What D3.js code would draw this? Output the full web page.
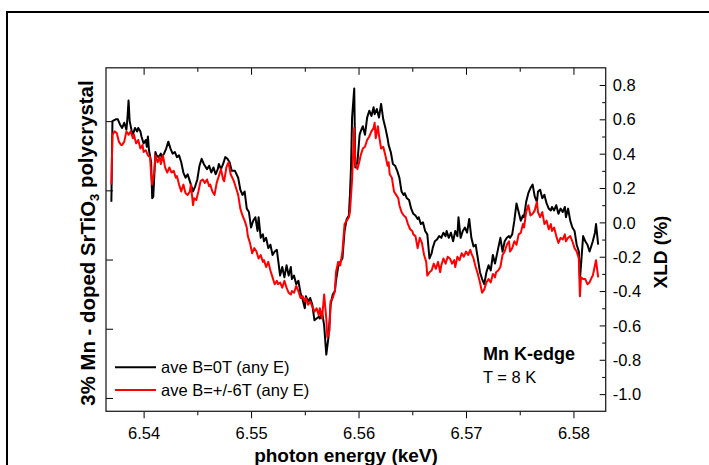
<!DOCTYPE html>
<html><head><meta charset="utf-8">
<script src="https://cdn.jsdelivr.net/npm/d3@7"></script>
<style>body{margin:0;background:#fff} svg text{font-family:Arial,"Liberation Sans",sans-serif;fill:#000}</style>
</head><body><svg id="c" width="709" height="465"></svg>
<script>
// ---- data (energy keV, XLD %) ----
const seriesNames = ["ave B=0T (any E)", "ave B=+/-6T (any E)"];
const blackData = [[6.5370,0.12],[6.5371,0.59],[6.5374,0.60],[6.5376,0.60],[6.5378,0.57],[6.5380,0.55],[6.5382,0.58],[6.5384,0.54],[6.5385,0.61],[6.5386,0.71],[6.5387,0.59],[6.5389,0.53],[6.5390,0.51],[6.5392,0.55],[6.5394,0.53],[6.5395,0.55],[6.5397,0.53],[6.5398,0.50],[6.5400,0.46],[6.5402,0.48],[6.5403,0.44],[6.5404,0.50],[6.5405,0.42],[6.5407,0.35],[6.5408,0.14],[6.5409,0.15],[6.5411,0.41],[6.5412,0.39],[6.5414,0.38],[6.5416,0.40],[6.5417,0.38],[6.5419,0.40],[6.5421,0.43],[6.5423,0.47],[6.5425,0.43],[6.5427,0.40],[6.5429,0.41],[6.5431,0.38],[6.5433,0.39],[6.5435,0.35],[6.5437,0.29],[6.5439,0.26],[6.5441,0.28],[6.5443,0.24],[6.5444,0.22],[6.5446,0.18],[6.5448,0.21],[6.5450,0.25],[6.5452,0.33],[6.5454,0.37],[6.5456,0.34],[6.5457,0.33],[6.5459,0.31],[6.5461,0.33],[6.5463,0.29],[6.5465,0.32],[6.5467,0.28],[6.5469,0.31],[6.5470,0.34],[6.5472,0.31],[6.5474,0.34],[6.5476,0.38],[6.5478,0.37],[6.5480,0.35],[6.5482,0.30],[6.5485,0.30],[6.5488,0.26],[6.5490,0.19],[6.5492,0.16],[6.5494,0.18],[6.5496,0.08],[6.5498,0.06],[6.5500,-0.03],[6.5502,0.01],[6.5504,0.03],[6.5506,-0.05],[6.5507,0.03],[6.5509,-0.09],[6.5511,-0.07],[6.5512,-0.11],[6.5514,-0.09],[6.5516,-0.15],[6.5518,-0.13],[6.5520,-0.19],[6.5522,-0.17],[6.5524,-0.16],[6.5525,-0.21],[6.5527,-0.31],[6.5529,-0.26],[6.5531,-0.32],[6.5533,-0.25],[6.5535,-0.31],[6.5537,-0.26],[6.5538,-0.33],[6.5540,-0.31],[6.5542,-0.36],[6.5544,-0.34],[6.5546,-0.41],[6.5548,-0.45],[6.5550,-0.50],[6.5551,-0.43],[6.5553,-0.46],[6.5555,-0.44],[6.5557,-0.48],[6.5559,-0.57],[6.5561,-0.56],[6.5563,-0.55],[6.5564,-0.56],[6.5566,-0.52],[6.5568,-0.60],[6.5570,-0.77],[6.5572,-0.67],[6.5574,-0.48],[6.5576,-0.42],[6.5578,-0.40],[6.5579,-0.34],[6.5581,-0.26],[6.5583,-0.23],[6.5585,-0.21],[6.5587,-0.05],[6.5589,0.02],[6.5591,0.04],[6.5592,0.16],[6.5593,0.32],[6.5594,0.61],[6.5596,0.78],[6.5597,0.32],[6.5599,0.35],[6.5601,0.51],[6.5602,0.53],[6.5604,0.56],[6.5606,0.51],[6.5608,0.61],[6.5610,0.65],[6.5612,0.62],[6.5614,0.67],[6.5615,0.63],[6.5617,0.66],[6.5619,0.61],[6.5621,0.69],[6.5623,0.60],[6.5625,0.55],[6.5627,0.49],[6.5628,0.45],[6.5630,0.41],[6.5632,0.34],[6.5634,0.33],[6.5636,0.30],[6.5638,0.26],[6.5640,0.18],[6.5642,0.16],[6.5643,0.17],[6.5645,0.14],[6.5647,0.13],[6.5649,0.08],[6.5651,0.05],[6.5653,0.04],[6.5655,0.02],[6.5656,0.03],[6.5658,-0.01],[6.5660,0.00],[6.5662,-0.05],[6.5664,-0.07],[6.5666,-0.21],[6.5668,-0.18],[6.5669,-0.15],[6.5671,-0.11],[6.5673,-0.10],[6.5675,-0.08],[6.5677,-0.09],[6.5679,-0.06],[6.5681,-0.08],[6.5682,-0.05],[6.5684,-0.09],[6.5686,-0.06],[6.5688,-0.11],[6.5690,-0.05],[6.5692,-0.08],[6.5693,0.03],[6.5695,-0.09],[6.5697,-0.05],[6.5699,-0.03],[6.5701,-0.06],[6.5703,0.02],[6.5705,-0.09],[6.5707,-0.14],[6.5709,-0.13],[6.5711,-0.21],[6.5713,-0.29],[6.5715,-0.33],[6.5717,-0.36],[6.5719,-0.29],[6.5721,-0.25],[6.5723,-0.28],[6.5725,-0.19],[6.5727,-0.24],[6.5728,-0.21],[6.5730,-0.15],[6.5732,-0.09],[6.5734,-0.17],[6.5736,-0.11],[6.5738,-0.09],[6.5740,-0.08],[6.5741,-0.09],[6.5743,-0.07],[6.5745,0.01],[6.5747,0.11],[6.5749,0.06],[6.5751,0.01],[6.5753,0.04],[6.5754,0.03],[6.5756,0.12],[6.5758,0.17],[6.5760,0.20],[6.5762,0.22],[6.5764,0.15],[6.5766,0.12],[6.5767,0.18],[6.5769,0.19],[6.5771,0.14],[6.5773,0.16],[6.5775,0.11],[6.5777,0.08],[6.5779,0.07],[6.5780,0.09],[6.5782,0.07],[6.5784,0.10],[6.5786,0.05],[6.5788,0.08],[6.5790,0.06],[6.5792,0.09],[6.5793,0.03],[6.5795,0.08],[6.5797,0.01],[6.5799,-0.03],[6.5801,-0.05],[6.5803,-0.13],[6.5805,-0.17],[6.5806,-0.33],[6.5807,-0.25],[6.5809,-0.08],[6.5811,-0.11],[6.5813,-0.13],[6.5815,-0.17],[6.5817,-0.13],[6.5818,-0.11],[6.5820,-0.06],[6.5821,-0.01],[6.5823,-0.13]];
const redData = [[6.5370,0.22],[6.5371,0.51],[6.5373,0.53],[6.5375,0.52],[6.5377,0.47],[6.5379,0.45],[6.5380,0.45],[6.5382,0.47],[6.5384,0.53],[6.5386,0.51],[6.5388,0.53],[6.5390,0.49],[6.5391,0.51],[6.5393,0.46],[6.5395,0.48],[6.5397,0.43],[6.5399,0.45],[6.5400,0.41],[6.5402,0.42],[6.5404,0.39],[6.5406,0.38],[6.5407,0.28],[6.5408,0.22],[6.5410,0.30],[6.5411,0.39],[6.5413,0.35],[6.5415,0.38],[6.5416,0.34],[6.5418,0.39],[6.5420,0.32],[6.5422,0.29],[6.5424,0.32],[6.5426,0.29],[6.5428,0.30],[6.5430,0.26],[6.5431,0.27],[6.5433,0.22],[6.5435,0.18],[6.5437,0.22],[6.5439,0.17],[6.5441,0.16],[6.5443,0.18],[6.5444,0.22],[6.5446,0.10],[6.5447,0.14],[6.5449,0.13],[6.5451,0.18],[6.5453,0.24],[6.5455,0.25],[6.5457,0.23],[6.5459,0.25],[6.5461,0.21],[6.5462,0.22],[6.5464,0.18],[6.5466,0.16],[6.5468,0.23],[6.5470,0.27],[6.5472,0.31],[6.5474,0.25],[6.5475,0.24],[6.5477,0.32],[6.5479,0.35],[6.5481,0.28],[6.5484,0.24],[6.5486,0.20],[6.5488,0.16],[6.5490,0.08],[6.5492,0.04],[6.5494,0.01],[6.5496,-0.03],[6.5497,-0.08],[6.5499,-0.12],[6.5501,-0.18],[6.5503,-0.15],[6.5505,-0.17],[6.5507,-0.21],[6.5509,-0.19],[6.5511,-0.23],[6.5512,-0.22],[6.5514,-0.26],[6.5516,-0.23],[6.5518,-0.28],[6.5520,-0.32],[6.5522,-0.36],[6.5524,-0.34],[6.5525,-0.36],[6.5527,-0.35],[6.5529,-0.38],[6.5531,-0.34],[6.5533,-0.38],[6.5535,-0.41],[6.5537,-0.42],[6.5538,-0.40],[6.5540,-0.41],[6.5542,-0.37],[6.5544,-0.40],[6.5546,-0.44],[6.5548,-0.43],[6.5550,-0.46],[6.5551,-0.44],[6.5553,-0.48],[6.5555,-0.46],[6.5557,-0.49],[6.5559,-0.52],[6.5561,-0.50],[6.5563,-0.54],[6.5564,-0.50],[6.5566,-0.56],[6.5568,-0.42],[6.5570,-0.56],[6.5571,-0.67],[6.5573,-0.63],[6.5574,-0.46],[6.5576,-0.44],[6.5578,-0.40],[6.5579,-0.29],[6.5581,-0.23],[6.5583,-0.25],[6.5585,-0.17],[6.5587,-0.01],[6.5589,0.01],[6.5591,0.03],[6.5592,0.06],[6.5594,0.25],[6.5596,0.55],[6.5597,0.34],[6.5599,0.31],[6.5601,0.36],[6.5602,0.39],[6.5604,0.43],[6.5606,0.44],[6.5608,0.48],[6.5610,0.50],[6.5612,0.53],[6.5614,0.55],[6.5615,0.58],[6.5616,0.49],[6.5618,0.56],[6.5619,0.51],[6.5621,0.43],[6.5623,0.44],[6.5625,0.39],[6.5627,0.33],[6.5628,0.35],[6.5629,0.28],[6.5631,0.26],[6.5633,0.18],[6.5635,0.16],[6.5637,0.14],[6.5638,0.10],[6.5640,0.06],[6.5642,0.04],[6.5644,0.03],[6.5646,-0.01],[6.5648,-0.04],[6.5650,-0.05],[6.5651,-0.07],[6.5653,-0.08],[6.5655,-0.15],[6.5657,-0.09],[6.5659,-0.12],[6.5661,-0.19],[6.5663,-0.23],[6.5664,-0.31],[6.5666,-0.29],[6.5668,-0.28],[6.5670,-0.24],[6.5672,-0.27],[6.5674,-0.23],[6.5676,-0.29],[6.5677,-0.25],[6.5679,-0.21],[6.5681,-0.24],[6.5683,-0.20],[6.5685,-0.21],[6.5687,-0.24],[6.5689,-0.22],[6.5690,-0.26],[6.5692,-0.20],[6.5694,-0.22],[6.5696,-0.18],[6.5698,-0.20],[6.5700,-0.17],[6.5702,-0.19],[6.5704,-0.16],[6.5705,-0.18],[6.5707,-0.21],[6.5709,-0.26],[6.5711,-0.30],[6.5713,-0.35],[6.5715,-0.41],[6.5717,-0.39],[6.5719,-0.35],[6.5721,-0.33],[6.5723,-0.35],[6.5725,-0.30],[6.5727,-0.32],[6.5728,-0.29],[6.5730,-0.28],[6.5732,-0.26],[6.5734,-0.19],[6.5736,-0.17],[6.5738,-0.13],[6.5740,-0.11],[6.5741,-0.17],[6.5743,-0.15],[6.5745,-0.11],[6.5747,-0.13],[6.5749,-0.07],[6.5751,-0.06],[6.5753,-0.01],[6.5754,-0.03],[6.5756,0.06],[6.5758,0.10],[6.5760,0.04],[6.5762,0.05],[6.5764,0.07],[6.5766,0.12],[6.5767,0.06],[6.5769,0.03],[6.5771,0.06],[6.5773,-0.01],[6.5775,0.01],[6.5777,-0.04],[6.5779,-0.01],[6.5780,-0.05],[6.5782,-0.03],[6.5784,-0.08],[6.5786,-0.12],[6.5788,-0.09],[6.5790,-0.10],[6.5792,-0.07],[6.5793,-0.11],[6.5795,-0.09],[6.5797,-0.08],[6.5799,-0.11],[6.5801,-0.15],[6.5803,-0.17],[6.5805,-0.21],[6.5806,-0.43],[6.5807,-0.32],[6.5809,-0.33],[6.5811,-0.33],[6.5813,-0.36],[6.5815,-0.35],[6.5817,-0.32],[6.5818,-0.31],[6.5820,-0.25],[6.5821,-0.22],[6.5823,-0.32]];
const xTicks = [6.54, 6.55, 6.56, 6.57, 6.58];
const xMinorTicks = [6.545, 6.555, 6.565, 6.575];
const yTicks = [0.8, 0.6, 0.4, 0.2, 0.0, -0.2, -0.4, -0.6, -0.8, -1.0];
const yMinorTicks = [0.7, 0.5, 0.3, 0.1, -0.1, -0.3, -0.5, -0.7, -0.9];
const leftTicks = [0, 1, 2, 3, 4];

// ---- layout ----
const L = 106, R = 605.7, T = 67.8, B = 411.3;
const svg = d3.select("#c");
svg.append("rect").attr("x", 7).attr("y", 12).attr("width", 720).attr("height", 480)
  .attr("fill", "none").attr("stroke", "#000").attr("stroke-width", 2);

const x = d3.scaleLinear().domain([6.5365, 6.5830]).range([L, R]);
const y = d3.scaleLinear().domain([-1.1, 0.9]).range([B, T]);
const yl = d3.scaleLinear().domain([-0.193, 4.771]).range([B, T]);

function styleAxis(g) {
  g.select(".domain").remove();
  g.selectAll("line").attr("stroke", "#000").attr("stroke-width", 1);
  g.attr("font-family", null).attr("font-size", null);
  g.selectAll("text").style("font-size", "16.5px").attr("fill", "#000");
}
// bottom
svg.append("g").attr("transform", `translate(0,${B})`)
  .call(d3.axisBottom(x).tickValues(xTicks).tickSize(7).tickSizeOuter(0).tickPadding(9).tickFormat(d => d.toFixed(2)))
  .call(styleAxis);
svg.append("g").attr("transform", `translate(0,${B})`)
  .call(d3.axisBottom(x).tickValues(xMinorTicks).tickSize(4).tickSizeOuter(0).tickFormat(""))
  .call(styleAxis);
// top (inward)
svg.append("g").attr("transform", `translate(0,${T})`)
  .call(d3.axisTop(x).tickValues(xTicks).tickSize(-7).tickSizeOuter(0).tickFormat(""))
  .call(styleAxis);
svg.append("g").attr("transform", `translate(0,${T})`)
  .call(d3.axisTop(x).tickValues(xMinorTicks).tickSize(-4).tickSizeOuter(0).tickFormat(""))
  .call(styleAxis);
// right (inward)
const ra = svg.append("g").attr("transform", `translate(${R},0)`)
  .call(d3.axisRight(y).tickValues(yTicks).tickSize(-6).tickSizeOuter(0).tickPadding(7).tickFormat(d => d.toFixed(1)))
  .call(styleAxis);
ra.selectAll("text").attr("dy", "0.34em");
svg.append("g").attr("transform", `translate(${R},0)`)
  .call(d3.axisRight(y).tickValues(yMinorTicks).tickSize(-3.5).tickSizeOuter(0).tickFormat(""))
  .call(styleAxis);
// left (inward, unlabeled)
svg.append("g").attr("transform", `translate(${L},0)`)
  .call(d3.axisLeft(yl).tickValues(leftTicks).tickSize(-7).tickSizeOuter(0).tickFormat(""))
  .call(styleAxis);

// frame
svg.append("rect").attr("x", L).attr("y", T).attr("width", R - L).attr("height", B - T)
  .attr("fill", "none").attr("stroke", "#222").attr("stroke-width", 1.3);

// lines
const line = d3.line().x(d => x(d[0])).y(d => y(d[1]));
svg.append("path").datum(blackData).attr("d", line).attr("fill", "none")
  .attr("stroke", "#000").attr("stroke-width", 2).attr("stroke-linejoin", "round");
svg.append("path").datum(redData).attr("d", line).attr("fill", "none")
  .attr("stroke", "#ff0000").attr("stroke-width", 2).attr("stroke-linejoin", "round");

// legend
const legColors = ["#000", "#ff0000"];
seriesNames.forEach((n, i) => {
  const ly = 367.3 + i * 22.7;
  svg.append("line").attr("x1", 115).attr("x2", 156).attr("y1", ly).attr("y2", ly)
    .attr("stroke", legColors[i]).attr("stroke-width", 2);
  svg.append("text").attr("x", 161).attr("y", ly + 6).style("font-size", "16.5px").text(n);
});

// annotations
svg.append("text").attr("x", 483).attr("y", 360).style("font-size", "18px").style("font-weight", "bold").text("Mn K-edge");
svg.append("text").attr("x", 483).attr("y", 383.3).style("font-size", "16.5px").text("T = 8 K");

// axis titles
svg.append("text").attr("x", 346).attr("y", 462).attr("text-anchor", "middle")
  .style("font-size", "19px").style("font-weight", "bold").text("photon energy (keV)");
svg.append("text").attr("transform", "translate(667,252) rotate(-90)").attr("text-anchor", "middle")
  .style("font-size", "19px").style("font-weight", "bold").text("XLD (%)");
const lt = svg.append("text").attr("transform", "translate(95,243) rotate(-90)").attr("text-anchor", "middle")
  .style("font-size", "20.4px").style("font-weight", "bold");
lt.append("tspan").text("3% Mn - doped SrTiO");
lt.append("tspan").attr("dy", "0.3em").style("font-size", "13px").text("3");
lt.append("tspan").attr("dy", "-0.3em").text(" polycrystal");
</script></body></html>
